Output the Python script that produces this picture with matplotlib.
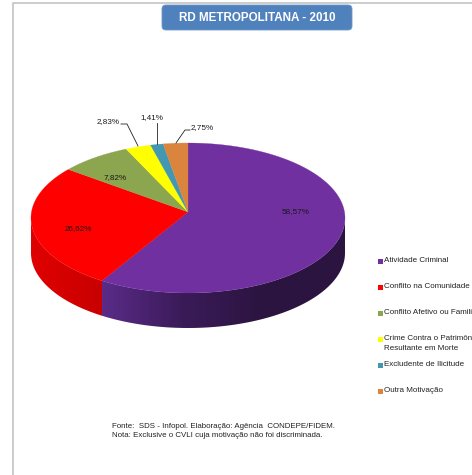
import numpy as np
import matplotlib
matplotlib.use("Agg")
import matplotlib.pyplot as plt
from matplotlib.patches import Polygon, FancyBboxPatch, Rectangle
from matplotlib.colors import LinearSegmentedColormap

plt.rcParams["font.family"] = ["Liberation Sans", "DejaVu Sans"]

# ── Data ──────────────────────────────────────────────────────────────────────
TITLE = "RD METROPOLITANA - 2010"
# two legend entries stop short, the source picture cuts them at its right side
categories = [
    "Atividade Criminal",
    "Conflito na Comunidade",
    "Conflito Afetivo ou Famili",
    "Crime Contra o Patrimôn\nResultante em Morte",
    "Excludente de Ilicitude",
    "Outra Motivação",
]
values = [58.57, 26.62, 7.82, 2.83, 1.41, 2.75]
value_labels = ["58,57%", "26,62%", "7,82%", "2,83%", "1,41%", "2,75%"]
colors = ["#7030a0", "#ff0000", "#8ba64f", "#ffff00", "#4298b0", "#db843d"]
note_lines = [
    "Fonte:  SDS - Infopol. Elaboração: Agência  CONDEPE/FIDEM.",
    "Nota: Exclusive o CVLI cuja motivação não foi discriminada.",
]

# ── Layout, in pixels of the 472x475 picture ─────────────────────────────────
CX, CY = 188, 218      # rim ellipse centre
AX, AY = 188, 212      # pie apex sits a bit higher than the centre (perspective)
RX, RY = 157, 75
DEPTH = 35

# side wall shading, left to right
SIDE_SHADE = {
    0: ["#5a2b88", "#3a1b58", "#2b1440", "#2b1440"],
    1: ["#e00000", "#c80000"],
}
LABEL_POS = [(296, 212), (78, 229), (115, 178), (108, 122), (152, 118), (202, 128)]
LEADERS = {
    3: [(121, 124), (127, 124), (138, 146)],
    4: [(157, 123), (157, 144)],
    5: [(190, 130), (185, 130), (176, 143)],
}
LEGEND_Y = [261, 287, 313, 339, 365, 391]


def rim(theta):
    """Rim point for a slice angle in degrees, clockwise from 12 o'clock.
    Rays leave the apex and stop where they meet the off-centre ellipse."""
    t = np.radians(theta)
    p = (AY - CY) / RY
    c = np.cos(t)
    s = p * c + np.sqrt(p**2 * c**2 - p**2 + 1)
    return AX + RX * np.sin(t) * s, AY - RY * c * s


fig = plt.figure(figsize=(4.72, 4.75), dpi=100)
ax = fig.add_axes([0, 0, 1, 1])

# outer frame, only left and top edges are visible in the crop
ax.plot([13, 13, 472], [475, 2.5, 2.5], color="#c4c4c4", lw=1.2, zorder=1)

# title box
ax.add_patch(FancyBboxPatch((165, 8), 184, 19, boxstyle="round,pad=3,rounding_size=4",
                            fc="#4f81bd", ec="#6f97c8", lw=0.6, zorder=2))
ax.text(257, 18, TITLE, color="white", fontsize=8.4, fontweight="bold",
        ha="center", va="center", zorder=3)

edges = np.concatenate([[0], np.cumsum(values)]) / np.sum(values) * 360

# side wall, gradient image clipped to the front facing part of the slice
for i, shade in SIDE_SHADE.items():
    th = np.linspace(edges[i], edges[i + 1], 400)
    xs, ys = rim(th)
    keep = ys >= CY
    xs, ys = xs[keep], ys[keep]
    wall = list(zip(xs, ys)) + list(zip(xs[::-1], ys[::-1] + DEPTH))
    cmap = LinearSegmentedColormap.from_list("wall", shade)
    im = ax.imshow(np.linspace(0, 1, 256)[None, :], cmap=cmap, aspect="auto",
                   extent=(xs.min(), xs.max(), 340, 200), zorder=4)
    im.set_clip_path(Polygon(wall, transform=ax.transData))

# top surface
for i, c in enumerate(colors):
    th = np.linspace(edges[i], edges[i + 1], 200)
    xs, ys = rim(th)
    pts = [(AX, AY)] + list(zip(xs, ys))
    ax.add_patch(Polygon(pts, fc=c, ec=c, lw=0.2, zorder=5))

# value labels and their leader lines
for (x, y), lab in zip(LABEL_POS, value_labels):
    ax.text(x, y, lab, fontsize=5.9, color="#1a1a1a", ha="center", va="center", zorder=7)
for pts in LEADERS.values():
    ax.plot(*zip(*pts), color="#222222", lw=0.6, zorder=6)

# legend
for y, lab, c in zip(LEGEND_Y, categories, colors):
    ax.add_patch(Rectangle((378, y - 2.5), 5, 5, fc=c, ec="none", zorder=5))
    ax.text(384, y - 3.5, lab, fontsize=5.8, color="#222222", ha="left", va="top",
            linespacing=1.4, zorder=5)

# source note
for y, line in zip([426.5, 435.5], note_lines):
    ax.text(112, y, line, fontsize=5.7, color="#222222", ha="left", va="center", zorder=5)

ax.set_xlim(0, 472)
ax.set_ylim(475, 0)
ax.axis("off")

fig.savefig("out.png", dpi=100)
